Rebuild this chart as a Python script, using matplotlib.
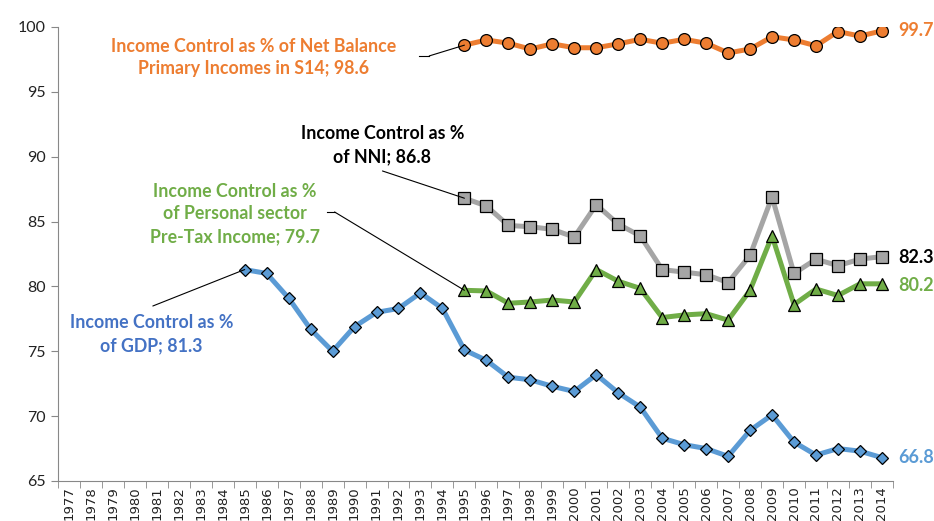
import numpy as np
import matplotlib.pyplot as plt

years = [str(y) for y in range(1977, 2015)]
nan = np.nan

# 1985-2014
gdp_vals = [81.3, 81.0, 79.1, 76.7, 75.0, 76.9, 78.0, 78.3, 79.5, 78.3,
            75.1, 74.3, 73.0, 72.8, 72.3, 71.9, 73.2, 71.8, 70.7, 68.3,
            67.8, 67.5, 66.9, 68.9, 70.1, 68.0, 67.0, 67.5, 67.3, 66.8]
# 1995-2014
nni_vals = [86.8, 86.2, 84.7, 84.6, 84.4, 83.8, 86.3, 84.8, 83.9, 81.3,
            81.1, 80.9, 80.3, 82.4, 86.9, 81.0, 82.1, 81.6, 82.1, 82.3]
pers_vals = [79.7, 79.65, 78.7, 78.8, 78.95, 78.8, 81.3, 80.4, 79.85, 77.6,
             77.8, 77.9, 77.4, 79.7, 83.9, 78.6, 79.8, 79.3, 80.2, 80.2]
s14_vals = [98.6, 99.0, 98.75, 98.3, 98.7, 98.4, 98.4, 98.7, 99.05, 98.75,
            99.05, 98.75, 98.0, 98.3, 99.25, 99.0, 98.55, 99.65, 99.3, 99.7]

n = len(years)
gdp = [nan] * (n - len(gdp_vals)) + gdp_vals
nni = [nan] * (n - len(nni_vals)) + nni_vals
pers = [nan] * (n - len(pers_vals)) + pers_vals
s14 = [nan] * (n - len(s14_vals)) + s14_vals

c_or = '#ED7D31'
c_gr = '#A5A5A5'
c_gn = '#70AD47'
c_bl = '#5B9BD5'
c_bl_txt = '#4472C4'

plt.rcParams['font.family'] = ['Lato', 'DejaVu Sans']

fig = plt.figure(figsize=(9.34, 5.21), dpi=100)
ax = fig.add_axes([0.062, 0.0768, 0.894, 0.8714])
x = np.arange(n)

ax.plot(x, s14, color=c_or, lw=3.6, marker='o', ms=8.5, mfc=c_or, mec='black', mew=0.9, zorder=3)
ax.plot(x, nni, color=c_gr, lw=3.6, marker='s', ms=8, mfc=c_gr, mec='black', mew=0.9, zorder=3)
ax.plot(x, pers, color=c_gn, lw=3.6, marker='^', ms=8.5, mfc=c_gn, mec='black', mew=0.9, zorder=3)
ax.plot(x, gdp, color=c_bl, lw=3.6, marker='D', ms=6, mfc=c_bl, mec='black', mew=0.9, zorder=3)

ax.set_xlim(-0.5, n - 0.5)
ax.set_ylim(65, 100)
ax.set_yticks(range(65, 101, 5))
ax.set_xticks(x)
ax.set_xticklabels(years, rotation=90, fontsize=9.5, family='DejaVu Sans', color='#222222')
ax.set_xticks(np.arange(-0.5, n, 1), minor=True)
ax.tick_params(axis='x', which='major', length=0, pad=4)
ax.tick_params(axis='x', which='minor', length=5, color='#888888')
ax.tick_params(axis='y', length=5, color='#888888', labelsize=11.5, labelcolor='#222222')
for s in ['top', 'right']:
    ax.spines[s].set_visible(False)
for s in ['left', 'bottom']:
    ax.spines[s].set_color('#888888')

kw = dict(fontsize=12.8, fontweight='bold', ha='center', va='center', linespacing=1.4)
lk = dict(arrowstyle='-', color='black', lw=0.8, shrinkA=0, shrinkB=0)

i0 = years.index('1995')
i85 = years.index('1985')

ax.text(8.4, 97.65, 'Income Control as % of Net Balance\nPrimary Incomes in S14; 98.6', color=c_or, **kw)
ax.plot([15.95, 16.4], [97.77, 97.77], color='black', lw=0.8)
ax.annotate('', xy=(i0, s14[i0]), xytext=(16.4, 97.77), arrowprops=lk)

ax.text(14.27, 90.9, 'Income Control as %\nof NNI; 86.8', color='black', **kw)
ax.annotate('', xy=(i0, nni[i0]), xytext=(14.27, 88.9), arrowprops=lk)

ax.text(7.55, 85.6, 'Income Control as %\nof Personal sector\nPre-Tax Income; 79.7', color=c_gn, **kw)
ax.plot([11.73, 12.09], [85.74, 85.74], color='black', lw=0.8)
ax.annotate('', xy=(i0, pers[i0]), xytext=(12.09, 85.74), arrowprops=lk)

ax.text(3.77, 76.33, 'Income Control as %\nof GDP; 81.3', color=c_bl_txt, **kw)
ax.annotate('', xy=(i85, gdp[i85]), xytext=(3.82, 78.49), arrowprops=lk)

ek = dict(fontsize=13, fontweight='bold', ha='left', va='center')
ax.text(n - 1 + 0.73, s14[-1], '99.7', color=c_or, **ek)
ax.text(n - 1 + 0.73, nni[-1] - 0.05, '82.3', color='black', **ek)
ax.text(n - 1 + 0.73, pers[-1] - 0.1, '80.2', color=c_gn, **ek)
ax.text(n - 1 + 0.73, gdp[-1], '66.8', color=c_bl, **ek)
for t in ax.texts:
    t.set_clip_on(False)

fig.savefig('out.png', dpi=100)
